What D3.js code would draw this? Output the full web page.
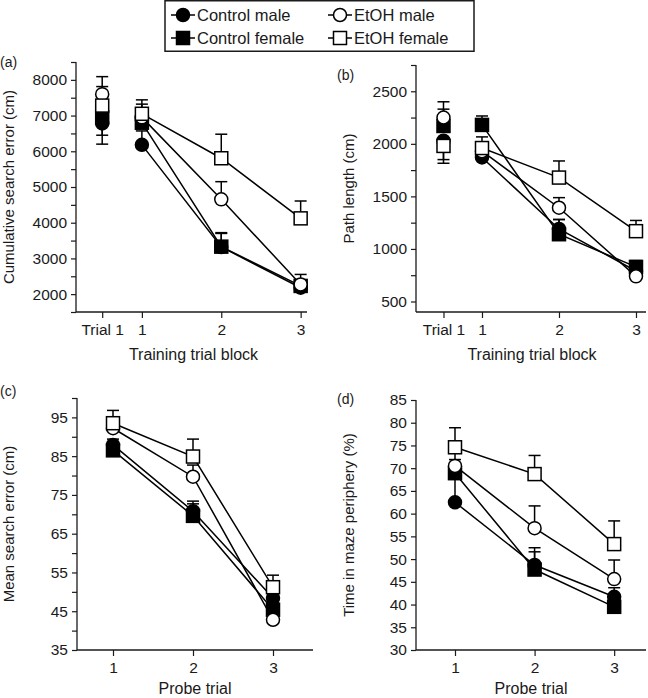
<!DOCTYPE html>
<html><head><meta charset="utf-8">
<script src="https://cdn.jsdelivr.net/npm/d3@7"></script>
<style>
body{margin:0;background:#fff;}
svg{display:block;font-family:"Liberation Sans",Arial,Helvetica,sans-serif;}
</style></head>
<body><svg id="chart" width="648" height="698"></svg>
<script>
// ---------- data ----------
const groups = ["Control male", "Control female", "EtOH male", "EtOH female"];
const trainingLabels = ["Trial 1", "1", "2", "3"];
const trainingX = [0.5, 1, 2, 3];
const probeLabels = ["1", "2", "3"];
const probeX = [1, 2, 3];

// (a) Cumulative search error (cm)
const controlMaleA   = [6780, 6180, 3320, 2180];
const controlFemaleA = [6950, 6800, 3330, 2230];
const etohMaleA      = [7600, 6950, 4655, 2272];
const etohFemaleA    = [7280, 7050, 5805, 4122];
const controlMaleErrA   = [-580, 390, 380, 150];
const controlFemaleErrA = [-500, 300, 392, 150];
const etohMaleErrA      = [490, 370, 494, 280];
const etohFemaleErrA    = [532, 390, 673, 486];

// (b) Path length (cm)
const controlMaleB   = [2030, 1870, 1190, 790];
const controlFemaleB = [2170, 2180, 1140, 829];
const etohMaleB      = [2250, 1930, 1392, 739];
const etohFemaleB    = [1980, 1960, 1679, 1169];
const controlMaleErrB   = [-180, 80, 90, 60];
const controlFemaleErrB = [160, 85, 140, 60];
const etohMaleErrB      = [150, 90, 96, 60];
const etohFemaleErrB    = [-165, 106, 158, 102];

// (c) Mean search error (cm)
const controlMaleC   = [87.9, 70.8, 48.4];
const controlFemaleC = [86.5, 69.6, 45.4];
const etohMaleC      = [92.2, 79.7, 42.8];
const etohFemaleC    = [93.5, 84.9, 51.2];
const controlMaleErrC   = [1.5, 2.6, 2];
const controlFemaleErrC = [2, 3.1, 2];
const etohMaleErrC      = [2.5, 3, 2];
const etohFemaleErrC    = [3.3, 4.5, 3.1];

// (d) Time in maze periphery (%)
const controlMaleD   = [62.5, 48.7, 41.7];
const controlFemaleD = [68.9, 47.7, 39.5];
const etohMaleD      = [70.5, 56.8, 45.6];
const etohFemaleD    = [74.6, 68.7, 53.3];
const controlMaleErrD   = [7, 3.8, 2];
const controlFemaleErrD = [3, 3.9, 2];
const etohMaleErrD      = [3, 4.9, 4.2];
const etohFemaleErrD    = [4.3, 4.1, 5.1];

const ticksA = [2000, 3000, 4000, 5000, 6000, 7000, 8000];
const ticksB = [500, 1000, 1500, 2000, 2500];
const ticksC = [35, 45, 55, 65, 75, 85, 95];
const ticksD = [30, 35, 40, 45, 50, 55, 60, 65, 70, 75, 80, 85];

// ---------- drawing ----------
const svg = d3.select("#chart");
const INK = "#1a1a1a";
const shapes = ["circle", "square", "circle", "square"];
const fills = ["#000", "#000", "#fff", "#fff"];

function marker(g, shape, fill, x, y) {
  if (shape === "circle") {
    g.append("circle").attr("cx", x).attr("cy", y).attr("r", 6.5)
      .attr("fill", fill).attr("stroke", "#000").attr("stroke-width", 1.5);
  } else {
    g.append("rect").attr("x", x - 6.5).attr("y", y - 6.5).attr("width", 13).attr("height", 13)
      .attr("fill", fill).attr("stroke", "#000").attr("stroke-width", 1.5);
  }
}

function panel(cfg) {
  const g = svg.append("g");
  const x = d3.scaleLinear().domain(cfg.xDomain).range(cfg.xRange);
  const y = d3.scaleLinear().domain(cfg.yDomain).range(cfg.yRange);

  // y axis
  const ya = d3.axisLeft(y).tickValues(cfg.yTicks).tickSize(5).tickPadding(4).tickFormat(d3.format("d"));
  const yg = g.append("g").attr("transform", `translate(${cfg.xRange[0]},0)`).call(ya);
  if (cfg.yMinor) {
    g.append("g").attr("transform", `translate(${cfg.xRange[0]},0)`)
      .call(d3.axisLeft(y).tickValues(cfg.yMinor).tickSize(5).tickFormat(""))
      .call(s => s.select(".domain").remove())
      .selectAll("line").attr("stroke", INK).attr("stroke-width", 1.2);
  }
  // x axis
  const xa = d3.axisBottom(x).tickValues(cfg.xVals).tickSize(6).tickPadding(6)
    .tickFormat((d, i) => cfg.xLabels[i]);
  const xg = g.append("g").attr("transform", `translate(0,${cfg.yRange[0]})`).call(xa);
  [yg, xg].forEach(s => {
    s.select(".domain").attr("stroke", INK).attr("stroke-width", 1.3)
      .attr("d", s === yg ? `M-0,${cfg.yRange[0]}V${cfg.yRange[1]}` : `M${cfg.xRange[0]},0H${cfg.xRange[1]}`);
    s.selectAll(".tick line").attr("stroke", INK).attr("stroke-width", 1.2);
    s.selectAll("text").attr("fill", INK).style("font-size", "15.5px");
  });

  // titles
  g.append("text").attr("x", (cfg.xRange[0] + cfg.xRange[1]) / 2 + cfg.xTitleDx).attr("y", cfg.xTitleY)
    .attr("text-anchor", "middle").attr("fill", INK).style("font-size", "16px").text(cfg.xTitle);
  g.append("text").attr("transform", `translate(${cfg.yTitleX},${(cfg.yRange[0] + cfg.yRange[1]) / 2}) rotate(-90)`)
    .attr("text-anchor", "middle").attr("fill", INK).style("font-size", "15px").text(cfg.yTitle);
  g.append("text").attr("x", cfg.labelX).attr("y", cfg.labelY).attr("fill", INK)
    .style("font-size", "14px").text(cfg.label);

  const n = cfg.xVals.length;
  const start = cfg.connectFrom;
  // connecting lines
  const line = d3.line().x(d => x(d[0])).y(d => y(d[1]));
  cfg.series.forEach(s => {
    const pts = [];
    for (let i = start; i < n; i++) pts.push([cfg.xVals[i], s[i]]);
    g.append("path").attr("d", line(pts)).attr("fill", "none").attr("stroke", "#000").attr("stroke-width", 1.5);
  });
  // error bars
  cfg.series.forEach((s, k) => {
    const e = cfg.errors[k];
    for (let i = 0; i < n; i++) {
      const xx = x(cfg.xVals[i]), y0 = y(s[i]), y1 = y(s[i] + e[i]);
      g.append("line").attr("x1", xx).attr("x2", xx).attr("y1", y0).attr("y2", y1)
        .attr("stroke", "#000").attr("stroke-width", 1.5);
      g.append("line").attr("x1", xx - 6).attr("x2", xx + 6).attr("y1", y1).attr("y2", y1)
        .attr("stroke", "#000").attr("stroke-width", 1.5);
    }
  });
  // markers
  cfg.series.forEach((s, k) => {
    for (let i = 0; i < n; i++) marker(g, shapes[k], fills[k], x(cfg.xVals[i]), y(s[i]));
  });
}

function range(a, b, step) { const r = []; for (let v = a; v <= b + 1e-9; v += step) r.push(+v.toFixed(4)); return r; }

panel({
  xDomain: [0.17, 3.08], xRange: [76, 307], yDomain: [1500, 8500], yRange: [312, 62],
  yTicks: ticksA, yMinor: range(1500, 8500, 1000),
  xVals: trainingX, xLabels: trainingLabels, connectFrom: 1,
  series: [controlMaleA, controlFemaleA, etohMaleA, etohFemaleA],
  errors: [controlMaleErrA, controlFemaleErrA, etohMaleErrA, etohFemaleErrA],
  xTitle: "Training trial block", xTitleY: 360, xTitleDx: 2,
  yTitle: "Cumulative search error (cm)", yTitleX: 14,
  label: "(a)", labelX: 0, labelY: 67
});
panel({
  xDomain: [0.143, 3.13], xRange: [416, 646], yDomain: [400, 2750], yRange: [312, 65],
  yTicks: ticksB, yMinor: range(750, 2750, 500),
  xVals: trainingX, xLabels: trainingLabels, connectFrom: 1,
  series: [controlMaleB, controlFemaleB, etohMaleB, etohFemaleB],
  errors: [controlMaleErrB, controlFemaleErrB, etohMaleErrB, etohFemaleErrB],
  xTitle: "Training trial block", xTitleY: 360, xTitleDx: 1,
  yTitle: "Path length (cm)", yTitleX: 354,
  label: "(b)", labelX: 337, labelY: 80
});
panel({
  xDomain: [0.55, 3.5], xRange: [77, 313], yDomain: [35, 100], yRange: [650, 398],
  yTicks: ticksC, yMinor: range(40, 100, 10),
  xVals: probeX, xLabels: probeLabels, connectFrom: 0,
  series: [controlMaleC, controlFemaleC, etohMaleC, etohFemaleC],
  errors: [controlMaleErrC, controlFemaleErrC, etohMaleErrC, etohFemaleErrC],
  xTitle: "Probe trial", xTitleY: 694, xTitleDx: 0,
  yTitle: "Mean search error (cm)", yTitleX: 14,
  label: "(c)", labelX: 0, labelY: 396
});
panel({
  xDomain: [0.51, 3.40], xRange: [416, 646], yDomain: [30, 85], yRange: [650, 400],
  yTicks: ticksD, yMinor: null,
  xVals: probeX, xLabels: probeLabels, connectFrom: 0,
  series: [controlMaleD, controlFemaleD, etohMaleD, etohFemaleD],
  errors: [controlMaleErrD, controlFemaleErrD, etohMaleErrD, etohFemaleErrD],
  xTitle: "Probe trial", xTitleY: 694, xTitleDx: 0,
  yTitle: "Time in maze periphery (%)", yTitleX: 354,
  label: "(d)", labelX: 337, labelY: 404
});

// ---------- legend ----------
const lg = svg.append("g");
lg.append("rect").attr("x", 165).attr("y", 0.75).attr("width", 309).attr("height", 50.5)
  .attr("fill", "#fff").attr("stroke", INK).attr("stroke-width", 1.5);
const legPos = [[183, 15], [183, 38], [340, 15], [340, 38]];
groups.forEach((name, k) => {
  const [cx, cy] = legPos[k];
  lg.append("line").attr("x1", cx - 12).attr("x2", cx + 12).attr("y1", cy).attr("y2", cy)
    .attr("stroke", "#000").attr("stroke-width", 1.5);
  marker(lg, shapes[k], fills[k], cx, cy);
  lg.append("text").attr("x", cx + 14).attr("y", cy + 6).attr("fill", INK)
    .style("font-size", "16.5px").text(name);
});
</script></body></html>
